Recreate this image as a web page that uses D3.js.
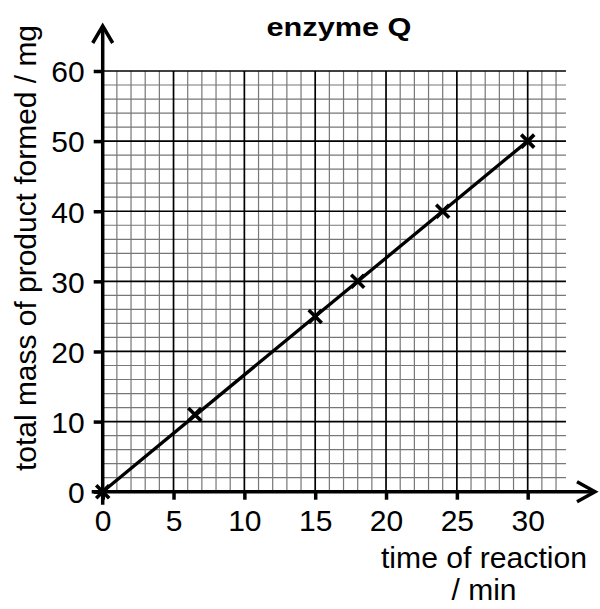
<!DOCTYPE html>
<html>
<head>
<meta charset="utf-8">
<script src="https://cdn.jsdelivr.net/npm/d3@7"></script>
<style>
  body { margin: 0; background: #fff; }
  text { font-family: "Liberation Sans", Arial, sans-serif; fill: #000; }
</style>
</head>
<body>
<div id="chart-area"></div>
<script>
// data
var timeMin = [0, 6.5, 15, 18, 24, 30];
var massMg = [0, 11, 25, 30, 40, 50];
var lineTime = [0, 30];
var lineMass = [0, 50];
var xTicks = [0, 5, 10, 15, 20, 25, 30];
var yTicks = [0, 10, 20, 30, 40, 50, 60];

var width = 600, height = 609;

var svg = d3.select("#chart-area").append("svg")
    .attr("width", width)
    .attr("height", height);

var x = d3.scaleLinear().domain([0, 30]).range([102.7, 527.7]);
var y = d3.scaleLinear().domain([0, 60]).range([491.7, 71]);

var gridXMax = 32.7; // squares run a bit past 32 on the right

// minor grid first, then the heavier 5 / 10 lines on top
var vLines = d3.range(1, 33);
var hLines = d3.range(2, 61, 2);

svg.append("g").selectAll("line")
    .data(vLines.filter(function(d) { return d % 5 != 0; }))
    .enter().append("line")
    .attr("x1", function(d) { return x(d); })
    .attr("x2", function(d) { return x(d); })
    .attr("y1", y(0))
    .attr("y2", y(60))
    .attr("stroke", "#777")
    .attr("stroke-width", 1.2);

svg.append("g").selectAll("line")
    .data(hLines.filter(function(d) { return d % 10 != 0; }))
    .enter().append("line")
    .attr("x1", x(0))
    .attr("x2", x(gridXMax))
    .attr("y1", function(d) { return y(d); })
    .attr("y2", function(d) { return y(d); })
    .attr("stroke", "#777")
    .attr("stroke-width", 1.2);

svg.append("g").selectAll("line")
    .data(vLines.filter(function(d) { return d % 5 == 0; }))
    .enter().append("line")
    .attr("x1", function(d) { return x(d); })
    .attr("x2", function(d) { return x(d); })
    .attr("y1", y(0))
    .attr("y2", y(60))
    .attr("stroke", "#000")
    .attr("stroke-width", 1.7);

svg.append("g").selectAll("line")
    .data(hLines.filter(function(d) { return d % 10 == 0; }))
    .enter().append("line")
    .attr("x1", x(0))
    .attr("x2", x(gridXMax))
    .attr("y1", function(d) { return y(d); })
    .attr("y2", function(d) { return y(d); })
    .attr("stroke", "#000")
    .attr("stroke-width", 1.7);

// axes with outward ticks
var xAxis = d3.axisBottom(x).tickValues(xTicks).tickSize(8).tickSizeOuter(0).tickPadding(10);
var yAxis = d3.axisLeft(y).tickValues(yTicks).tickSize(9).tickSizeOuter(0).tickPadding(9);

var gx = svg.append("g")
    .attr("transform", "translate(0," + y(0) + ")")
    .call(xAxis);
var gy = svg.append("g")
    .attr("transform", "translate(" + x(0) + ",0)")
    .call(yAxis);

[gx, gy].forEach(function(g) {
    g.select(".domain").remove();
    g.selectAll(".tick line").attr("stroke", "#000").attr("stroke-width", 3.5);
    g.selectAll(".tick text")
        .style("font-family", "'Liberation Sans', Arial, sans-serif")
        .style("font-size", "30px")
        .attr("fill", "#000");
});
gx.selectAll(".tick text").attr("dy", "0.7em");
gy.selectAll(".tick text").attr("dy", "0.36em");

// axis lines with open arrow heads
svg.append("line")
    .attr("x1", x(0) - 11).attr("x2", 595)
    .attr("y1", y(0)).attr("y2", y(0))
    .attr("stroke", "#000").attr("stroke-width", 3.5);
svg.append("polyline")
    .attr("points", [[577, y(0) - 10], [595, y(0)], [577, y(0) + 10]].join(" "))
    .attr("fill", "none").attr("stroke", "#000").attr("stroke-width", 3.5);

svg.append("line")
    .attr("x1", x(0)).attr("x2", x(0))
    .attr("y1", y(0) + 13).attr("y2", 26)
    .attr("stroke", "#000").attr("stroke-width", 3.5);
svg.append("polyline")
    .attr("points", [[x(0) - 10, 43], [x(0), 26], [x(0) + 10, 43]].join(" "))
    .attr("fill", "none").attr("stroke", "#000").attr("stroke-width", 3.5);

// best fit line
svg.append("line")
    .attr("x1", x(lineTime[0])).attr("y1", y(lineMass[0]))
    .attr("x2", x(lineTime[1])).attr("y2", y(lineMass[1]))
    .attr("stroke", "#000").attr("stroke-width", 3.3);

// crosses
var pts = timeMin.map(function(t, i) { return { t: t, m: massMg[i] }; });
var c = 6.5;
svg.append("g").selectAll("path")
    .data(pts)
    .enter().append("path")
    .attr("d", function(d) {
        var px = x(d.t), py = y(d.m);
        return "M" + (px - c) + "," + (py - c) + "L" + (px + c) + "," + (py + c) +
               "M" + (px - c) + "," + (py + c) + "L" + (px + c) + "," + (py - c);
    })
    .attr("stroke", "#000")
    .attr("stroke-width", 3.6)
    .attr("fill", "none");

// titles
svg.append("text")
    .attr("x", 339).attr("y", 36)
    .attr("text-anchor", "middle")
    .attr("textLength", 145).attr("lengthAdjust", "spacingAndGlyphs")
    .style("font-size", "25px").style("font-weight", "bold")
    .text("enzyme Q");

svg.append("text")
    .attr("x", 484).attr("y", 568)
    .attr("text-anchor", "middle")
    .attr("textLength", 206).attr("lengthAdjust", "spacingAndGlyphs")
    .style("font-size", "29px")
    .text("time of reaction");

svg.append("text")
    .attr("x", 484).attr("y", 600)
    .attr("text-anchor", "middle")
    .attr("textLength", 65).attr("lengthAdjust", "spacingAndGlyphs")
    .style("font-size", "29px")
    .text("/ min");

svg.append("text")
    .attr("transform", "translate(36,248) rotate(-90)")
    .attr("text-anchor", "middle")
    .attr("textLength", 446).attr("lengthAdjust", "spacingAndGlyphs")
    .style("font-size", "30px")
    .text("total mass of product formed / mg");
</script>
</body>
</html>
